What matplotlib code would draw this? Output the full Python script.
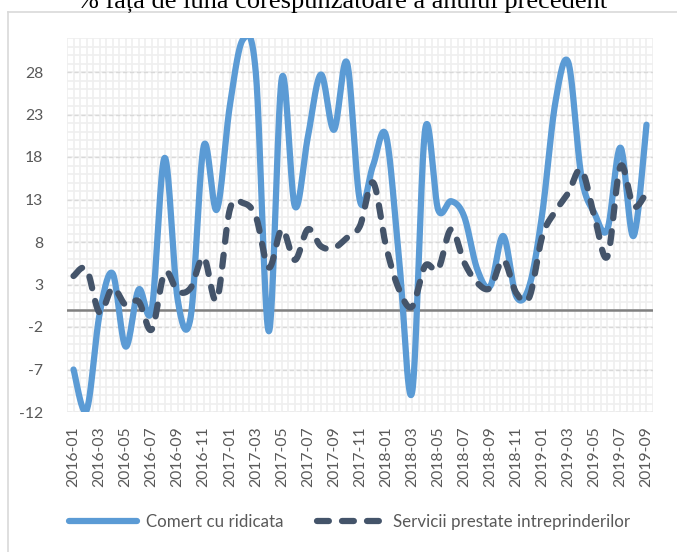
import numpy as np
import matplotlib
matplotlib.use("Agg")
import matplotlib.pyplot as plt
from matplotlib.lines import Line2D

# ---------------- data ----------------
months = [f"{y}-{m:02d}" for y in range(2016, 2020) for m in range(1, 13)][:45]
comert = [-7.0, -11.8, -0.5, 4.3, -4.3, 2.4, 0.0, 17.9, 1.2, -0.8,
          19.3, 11.8, 24.0, 31.8, 27.9, -2.5, 27.3, 12.2, 20.4, 27.7,
          21.2, 29.1, 12.8, 17.0, 20.5, 6.0, -9.7, 21.2, 11.8, 12.8,
          11.0, 4.8, 2.8, 8.7, 1.6, 2.8, 11.4, 24.4, 29.1, 15.7,
          11.4, 9.5, 19.1, 8.7, 21.8]
servicii = [4.0, 4.8, -0.3, 2.6, 0.6, 1.0, -2.3, 4.4, 2.2, 2.6,
            6.2, 1.2, 11.8, 12.6, 11.0, 5.0, 9.5, 5.9, 9.5, 7.5,
            7.3, 8.5, 9.9, 15.0, 7.5, 2.4, 0.4, 5.2, 4.8, 9.5,
            5.6, 3.2, 2.6, 5.9, 2.0, 1.5, 8.7, 11.6, 13.8, 16.5,
            11.0, 6.3, 16.9, 12.2, 13.8]
series_names = ["Comert cu ridicata", "Servicii prestate intreprinderilor"]
yticks = [-12, -7, -2, 3, 8, 13, 18, 23, 28]
title = "% fața de luna corespunzătoare a anului precedent"


def smooth(y, n=30):
    """Excel-like smoothed line: cubic Bezier through every point."""
    y = np.asarray(y, float)
    x = np.arange(len(y), dtype=float)
    P = np.column_stack([x, y])
    Pp = np.vstack([P[0], P, P[-1]])
    xs, ys = [], []
    t = np.linspace(0, 1, n)[:, None]
    for i in range(len(P) - 1):
        p0, p3 = P[i], P[i + 1]
        c1 = p0 + (Pp[i + 2] - Pp[i]) / 6.0
        c2 = p3 - (Pp[i + 3] - Pp[i + 1]) / 6.0
        B = ((1 - t) ** 3) * p0 + 3 * ((1 - t) ** 2) * t * c1 + 3 * (1 - t) * t ** 2 * c2 + t ** 3 * p3
        xs.append(B[:, 0]); ys.append(B[:, 1])
    return np.concatenate(xs), np.concatenate(ys)


W, H = 677, 552
fig = plt.figure(figsize=(W / 100, H / 100), dpi=100)
font = "Lato"
tcol = "#595959"

# chart frame (cropped: only left and top edges visible)
fig.add_artist(Line2D([7.5 / W, 7.5 / W], [0, 1 - 12 / H], color="#d9d9d9", lw=1.2))
fig.add_artist(Line2D([7.5 / W, 1], [1 - 12 / H, 1 - 12 / H], color="#d9d9d9", lw=1.2))

# title (cut at top in the source image)
fig.text(342 / W, 1 - 9 / H, title, ha="center", va="baseline",
         fontsize=19, family="Liberation Serif", color="#000000")

L, R, T, B = 67, 653, 38, 412
ax = fig.add_axes([L / W, 1 - B / H, (R - L) / W, (B - T) / H])
n = len(months)
ax.set_xlim(-0.5, n - 0.5)
ax.set_ylim(-12, 32)

# minor grid
for v in np.arange(-0.5, n - 0.5 + 0.01, 0.5):
    ax.axvline(v, color="#efefef", lw=1.2, zorder=0)
for v in range(-12, 33):
    ax.axhline(v, color="#efefef", lw=1.2, zorder=0)
# major dashed grid
for v in yticks:
    ax.axhline(v, color="#d9d9d9", lw=1.0, ls=(0, (3, 2)), zorder=1)
# axis line at zero
ax.axhline(0, color="#808080", lw=1.8, zorder=2)

xs, ys = smooth(comert)
ax.plot(xs, ys, color="#5b9bd5", lw=4.5, solid_capstyle="round", solid_joinstyle="round", zorder=3)
xs2, ys2 = smooth(servicii)
ax.plot(xs2, ys2, color="#44546a", lw=4.5, dashes=(1.9, 2.1), dash_capstyle="round", zorder=4)

for s in ax.spines.values():
    s.set_visible(False)
ax.set_yticks(yticks)
ax.set_yticklabels([str(v) for v in yticks])
ax.set_xticks(range(0, n, 2))
ax.set_xticklabels(months[::2], rotation=90)
ax.tick_params(length=0, labelsize=11.3, labelcolor=tcol)
ax.tick_params(axis="y", pad=17)
ax.tick_params(axis="x", pad=10)
for lab in ax.get_xticklabels() + ax.get_yticklabels():
    lab.set_family(font)

# legend
h1 = Line2D([], [], color="#5b9bd5", lw=4.5, solid_capstyle="round")
h2 = Line2D([], [], color="#44546a", lw=4.5, dashes=(1.9, 2.1), dash_capstyle="round")
leg = fig.legend([h1, h2], series_names, loc="center", ncol=2,
                 bbox_to_anchor=(350 / W, 1 - 522 / H), frameon=False,
                 prop={"family": font, "size": 12.2}, handlelength=4.0,
                 handletextpad=0.5, columnspacing=2.0, labelcolor=tcol)

fig.savefig("out.png", dpi=100)
